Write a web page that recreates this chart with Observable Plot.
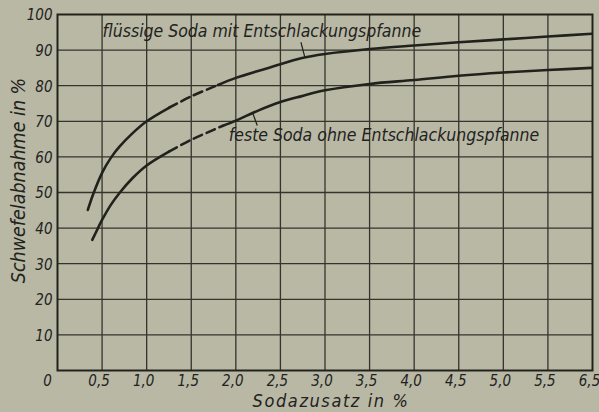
<!DOCTYPE html>
<html>
<head>
<meta charset="utf-8">
<script src="https://cdn.jsdelivr.net/npm/d3@7"></script>
<script src="https://cdn.jsdelivr.net/npm/@observablehq/plot@0.6"></script>
<style>
  html, body { margin: 0; padding: 0; background: #b8b8a5; }
  #chart { width: 599px; height: 412px; }
</style>
</head>
<body>
<div id="chart"></div>
<script>
// Sodazusatz (x, chart position) and Schwefelabnahme (y, %)
const upperX = [0.34, 0.4, 0.5, 0.6, 0.7, 0.84, 1.0, 1.25, 1.5, 1.8, 2.0, 2.5, 2.73, 3.0, 3.5, 4.0, 4.5, 5.0, 5.5, 6.0];
const upperY = [45.1, 49.5, 55.5, 59.8, 63.0, 66.6, 70.0, 73.8, 77.0, 80.2, 82.2, 86.0, 87.7, 88.9, 90.3, 91.3, 92.2, 93.0, 93.8, 94.6];
const upperDash = [1.25, 1.8];

const lowerX = [0.39, 0.45, 0.5, 0.6, 0.7, 0.84, 1.0, 1.25, 1.5, 1.75, 1.85, 2.0, 2.25, 2.5, 2.73, 3.0, 3.5, 4.0, 4.5, 5.0, 5.5, 6.0];
const lowerY = [36.7, 39.8, 42.3, 46.6, 50.0, 54.0, 57.6, 61.5, 64.8, 67.6, 68.7, 70.2, 73.0, 75.4, 77.0, 78.7, 80.5, 81.6, 82.8, 83.7, 84.4, 85.0];
const lowerDash = [1.25, 1.85];

const xTicks = [0.5, 1.0, 1.5, 2.0, 2.5, 3.0, 3.5, 4.0, 4.5, 5.0, 5.5, 6.0];
const xTickLabels = ["0,5", "1,0", "1,5", "2,0", "2,5", "3,0", "3,5", "4,0", "4,5", "5,0", "5,5", "6,5"];
const yTicks = [10, 20, 30, 40, 50, 60, 70, 80, 90, 100];
const yTickLabels = ["10", "20", "30", "40", "50", "60", "70", "80", "90", "100"];

const curveLabels = ["flüssige Soda mit Entschlackungspfanne", "feste Soda ohne Entschlackungspfanne"];
const labelX = [0.506, 1.92];
const labelY = [95.2, 66.0];
// leader lines from curve to label
const leaderX1 = [2.775, 2.19];
const leaderY1 = [87.9, 72.3];
const leaderX2 = [2.73, 2.24];
const leaderY2 = [92.2, 68.8];

const xTitle = "Sodazusatz in %";
const yTitle = "Schwefelabnahme in %";

const upper = upperX.map((x, i) => ({x, y: upperY[i]}));
const lower = lowerX.map((x, i) => ({x, y: lowerY[i]}));
const seg = (data, [a, b]) => ({
  solidA: data.filter(d => d.x <= a),
  dashed: data.filter(d => d.x >= a && d.x <= b),
  solidB: data.filter(d => d.x >= b)
});
const up = seg(upper, upperDash);
const lo = seg(lower, lowerDash);

const labels = curveLabels.map((t, i) => ({t, x: labelX[i], y: labelY[i]}));
const leaders = leaderX1.map((x1, i) => ({x1, y1: leaderY1[i], x2: leaderX2[i], y2: leaderY2[i]}));

const ink = "#22221d";
const gridInk = "#34342d";
const font = "'DejaVu Sans Condensed', 'Liberation Sans Narrow', 'DejaVu Sans', sans-serif";

const lineOpts = {x: "x", y: "y", curve: "catmull-rom", stroke: ink, strokeWidth: 2.6, clip: true};

const chart = Plot.plot({
  width: 599,
  height: 412,
  marginLeft: 57,
  marginRight: 7,
  marginTop: 14,
  marginBottom: 42,
  x: {domain: [0, 6]},
  y: {domain: [0, 100]},
  style: {background: "#b8b8a5", fontFamily: font, fontStyle: "italic", color: ink},
  marks: [
    Plot.ruleX(xTicks.slice(0, -1), {stroke: gridInk, strokeWidth: 1.3}),
    Plot.ruleY(yTicks.slice(0, -1), {stroke: gridInk, strokeWidth: 1.3}),
    Plot.frame({stroke: ink, strokeWidth: 2}),
    Plot.axisX(xTicks, {tickSize: 0, tickPadding: 5, fontSize: 15, dx: -3,
      tickFormat: (d, i) => xTickLabels[i], label: null}),
    Plot.axisY(yTicks, {tickSize: 0, tickPadding: 5, fontSize: 15, dy: 1,
      tickFormat: (d, i) => yTickLabels[i], label: null}),
    Plot.text(["0"], {x: () => 0, y: () => 0, dx: -10, dy: 11, fontSize: 15, fill: ink}),
    Plot.text([xTitle], {frameAnchor: "bottom", text: d => d, dx: 6, dy: 36, fontSize: 18, fill: ink}),
    Plot.text([yTitle], {frameAnchor: "left", text: d => d, textAnchor: "middle", rotate: -90, dx: -39, dy: -12, fontSize: 19.5, fill: ink}),
    Plot.line(up.solidA, lineOpts),
    Plot.line(up.dashed, {...lineOpts, strokeDasharray: "9,5"}),
    Plot.line(up.solidB, lineOpts),
    Plot.line(lo.solidA, lineOpts),
    Plot.line(lo.dashed, {...lineOpts, strokeDasharray: "9,5"}),
    Plot.line(lo.solidB, lineOpts),
    Plot.link(leaders, {x1: "x1", y1: "y1", x2: "x2", y2: "y2", stroke: ink, strokeWidth: 1.2}),
    Plot.text(labels, {x: "x", y: "y", text: "t", textAnchor: "start", fontSize: 17.5, fill: ink})
  ]
});
// widen the x-axis title a little, as in the original lettering
d3.select(chart).selectAll("text").filter(function() { return this.textContent === xTitle; })
  .style("letter-spacing", "1.6px");
document.getElementById("chart").appendChild(chart);
</script>
</body>
</html>
